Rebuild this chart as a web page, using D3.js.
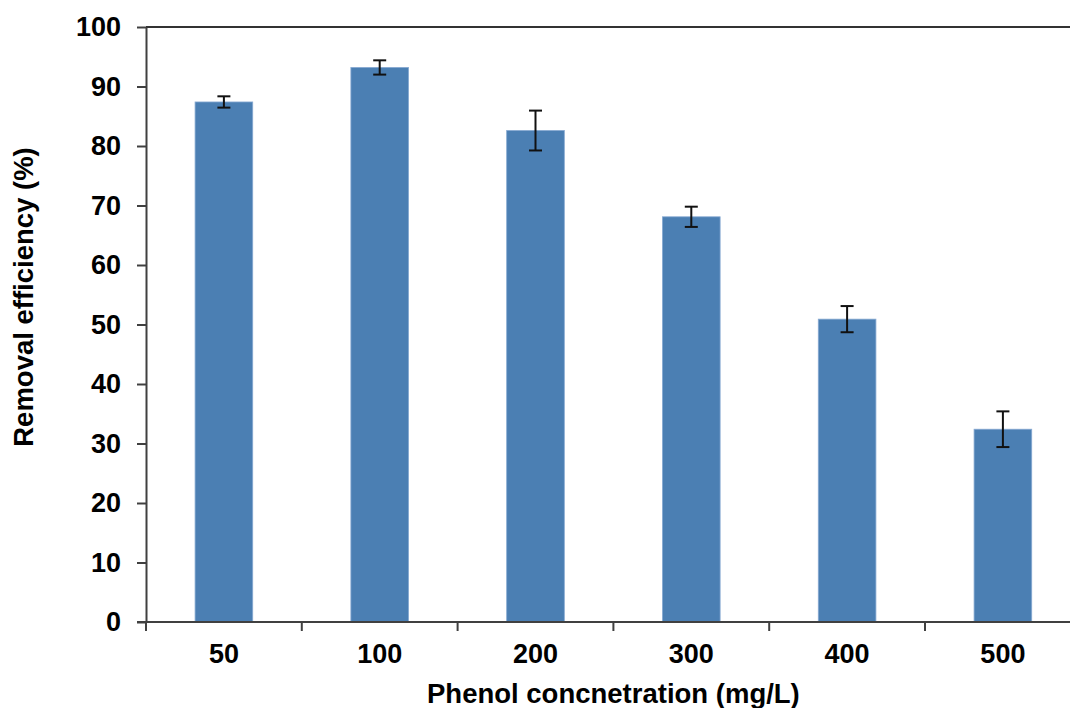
<!DOCTYPE html>
<html>
<head>
    <meta charset="utf-8">
    <title>Removal efficiency</title>
    <script src="https://cdn.jsdelivr.net/npm/d3@7"></script>
    <style>
        body { margin: 0; background: #fff; }
        text { font-family: "Liberation Sans", Arial, sans-serif; font-weight: bold; fill: #000; }
        .axis path, .axis line { stroke: #404040; stroke-width: 2px; }
    </style>
</head>
<body>
<script>
    // data
    var categories = ["50", "100", "200", "300", "400", "500"];
    var efficiency = [87.4, 93.2, 82.6, 68.1, 50.9, 32.4];
    var errors = [0.95, 1.2, 3.35, 1.7, 2.2, 3.0];
    var yTicks = [0, 10, 20, 30, 40, 50, 60, 70, 80, 90, 100];

    var W = 1070, H = 708;
    // note: "top" is taken by window.top, so use other names
    var plotLeft = 146, plotTop = 27, plotBottom = 622, plotRight = 146 + 6 * 155.8;

    var svg = d3.select("body").append("svg")
        .attr("width", W)
        .attr("height", H);

    var x = d3.scaleBand()
        .domain(categories)
        .range([plotLeft, plotRight])
        .paddingInner(0.63)
        .paddingOuter(0.315);

    var y = d3.scaleLinear()
        .domain([0, 100])
        .range([plotBottom, plotTop]);

    var rows = categories.map(function (c, i) {
        return { cat: c, val: efficiency[i], err: errors[i] };
    });

    // top border of plot area
    svg.append("line")
        .attr("x1", plotLeft).attr("x2", plotRight)
        .attr("y1", y(100)).attr("y2", y(100))
        .attr("stroke", "#333").attr("stroke-width", 2);

    // bars
    svg.selectAll("rect.bar")
        .data(rows)
        .enter().append("rect")
        .attr("class", "bar")
        .attr("x", function (d) { return x(d.cat); })
        .attr("width", x.bandwidth())
        .attr("y", function (d) { return y(d.val); })
        .attr("height", function (d) { return y(0) - y(d.val); })
        .attr("fill", "#4b7fb3")
        .attr("stroke", "#86a9d2")
        .attr("stroke-width", 0.8);

    // error bars
    var eb = svg.selectAll("g.err")
        .data(rows)
        .enter().append("g")
        .attr("class", "err")
        .attr("stroke", "#111")
        .attr("stroke-width", 2);
    var cx = function (d) { return x(d.cat) + x.bandwidth() / 2; };
    eb.append("line")
        .attr("x1", cx).attr("x2", cx)
        .attr("y1", function (d) { return y(d.val + d.err); })
        .attr("y2", function (d) { return y(d.val - d.err); });
    eb.append("line")
        .attr("x1", function (d) { return cx(d) - 6.5; })
        .attr("x2", function (d) { return cx(d) + 6.5; })
        .attr("y1", function (d) { return y(d.val + d.err); })
        .attr("y2", function (d) { return y(d.val + d.err); });
    eb.append("line")
        .attr("x1", function (d) { return cx(d) - 6.5; })
        .attr("x2", function (d) { return cx(d) + 6.5; })
        .attr("y1", function (d) { return y(d.val - d.err); })
        .attr("y2", function (d) { return y(d.val - d.err); });

    // y axis
    var yAxis = svg.append("g")
        .attr("class", "axis")
        .attr("transform", "translate(" + plotLeft + ",0)")
        .call(d3.axisLeft(y).tickValues(yTicks).tickSize(9).tickSizeOuter(0).tickPadding(16));
    yAxis.selectAll("text")
        .style("font-size", "27px")
        .attr("dy", "0.33em");

    // x axis: labels under bars, tick marks at category boundaries
    var xAxis = svg.append("g")
        .attr("class", "axis")
        .attr("transform", "translate(0," + plotBottom + ")")
        .call(d3.axisBottom(x).tickSize(0).tickSizeOuter(0).tickPadding(22));
    xAxis.select("path.domain").attr("d", "M" + (plotLeft - 9) + ",0H" + plotRight);
    xAxis.selectAll("text")
        .style("font-size", "27px")
        .attr("dy", "0.71em");
    var bounds = categories.map(function (c) {
        return x(c) + x.bandwidth() / 2 - x.step() / 2;
    });
    bounds.push(plotRight);
    xAxis.selectAll("line.bound")
        .data(bounds)
        .enter().append("line")
        .attr("class", "bound")
        .attr("x1", function (d) { return d; })
        .attr("x2", function (d) { return d; })
        .attr("y1", 0).attr("y2", 9);

    // axis titles
    svg.append("text")
        .attr("x", (plotLeft + plotRight) / 2)
        .attr("y", 703)
        .attr("text-anchor", "middle")
        .style("font-size", "27.5px")
        .text("Phenol concnetration (mg/L)");

    svg.append("text")
        .attr("transform", "translate(33,297) rotate(-90)")
        .attr("text-anchor", "middle")
        .style("font-size", "27.5px")
        .text("Removal efficiency (%)");
</script>
</body>
</html>
